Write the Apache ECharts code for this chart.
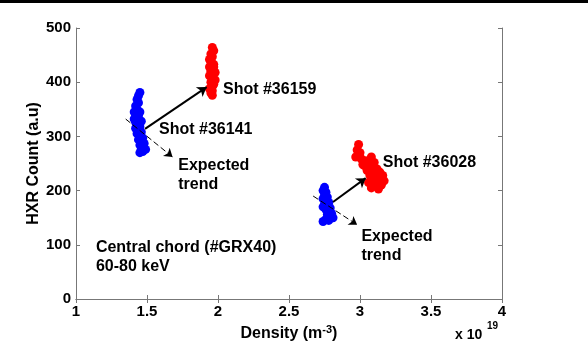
<!DOCTYPE html>
<html><head><meta charset="utf-8">
<script src="https://cdn.jsdelivr.net/npm/echarts@6/dist/echarts.min.js"></script>
<style>html,body{margin:0;padding:0;background:#fff}#c{width:588px;height:341px}</style>
</head><body><div id="c"></div>
<script>
// Data (density in 1e19 m^-3, HXR count a.u.)
const shot36141 = [[1.45,381],[1.44,375],[1.43,368],[1.44,362],[1.42,356],[1.43,350],[1.41,345],[1.42,340],[1.43,336],[1.41,332],[1.44,330],[1.42,326],[1.43,322],[1.45,318],[1.42,315],[1.44,312],[1.46,308],[1.43,305],[1.45,300],[1.47,297],[1.44,294],[1.46,290],[1.48,287],[1.45,284],[1.47,280],[1.46,276],[1.49,276],[1.47,272],[1.45,270],[1.44,338],[1.45,345],[1.46,328]];
const shot36159 = [[1.96,464],[1.97,458],[1.95,452],[1.96,447],[1.94,442],[1.95,437],[1.97,433],[1.94,428],[1.96,424],[1.95,420],[1.97,416],[1.94,412],[1.96,408],[1.98,404],[1.95,400],[1.97,396],[1.96,392],[1.94,388],[1.96,384],[1.95,380],[1.96,376],[1.97,428],[1.95,445],[1.98,418],[1.96,400]];
const shotB2 = [[2.75,206],[2.74,200],[2.76,197],[2.75,192],[2.77,188],[2.74,185],[2.76,181],[2.78,178],[2.75,175],[2.77,172],[2.74,170],[2.79,168],[2.76,165],[2.78,162],[2.80,158],[2.77,156],[2.79,152],[2.81,150],[2.76,147],[2.74,143],[2.78,145]];
const shot36028 = [[2.99,285],[2.98,275],[3.00,270],[2.97,262],[3.01,258],[3.04,255],[3.08,262],[3.06,250],[3.10,252],[3.03,246],[3.08,243],[3.12,240],[3.05,237],[3.10,233],[3.14,234],[3.07,228],[3.12,226],[3.16,228],[3.09,222],[3.14,220],[3.17,218],[3.06,215],[3.11,212],[3.15,210],[3.08,205],[3.13,203],[3.02,248],[3.00,262]];
const solidArrows = [[[1.486,314],[1.92,391]], [[2.81,179],[3.04,223]]];
const dashedArrows = [[[1.35,332],[1.68,262]], [[2.67,190],[2.98,137]]];
const annotations = [
  {name:'Shot #36159', value:[2.035,386]},
  {name:'Shot #36141', value:[1.585,312]},
  {name:'Expected\ntrend', value:[1.72,229]},
  {name:'Shot #36028', value:[3.16,251]},
  {name:'Expected\ntrend', value:[3.01,98]},
  {name:'Central chord (#GRX40)\n60-80 keV', value:[1.14,77]}
];
const xTicks = {min:1, max:4, interval:0.5};
const yTicks = {min:0, max:500, interval:100};

const FONT = '"Liberation Sans", Arial, sans-serif';
const axisGray = '#777';
const chart = echarts.init(document.getElementById('c'), null, {renderer:'canvas'});
const baseAxis = {
  axisLine:{show:true, lineStyle:{color:axisGray, width:1}},
  axisTick:{show:true, inside:true, length:4, lineStyle:{color:axisGray}},
  splitLine:{show:false}
};
const lbl = {color:'#000', fontFamily:FONT, fontWeight:'bold', fontSize:15};
chart.setOption({
  animation:false,
  grid:{left:76, right:86, top:28, bottom:42, containLabel:false, outerBoundsMode:'none'},
  xAxis:[
    Object.assign({type:'value', position:'bottom', min:xTicks.min, max:xTicks.max, interval:xTicks.interval,
      axisLabel:Object.assign({margin:5, formatter:v=>String(v)}, lbl),
      name:'{a|Density (m}{s|-3}{a|)}', nameLocation:'middle', nameGap:25,
      nameTextStyle:{rich:{a:{fontFamily:FONT,fontWeight:'bold',fontSize:16,color:'#000'}, s:{fontFamily:FONT,fontWeight:'bold',fontSize:11,color:'#000',verticalAlign:'top',padding:[0,0,8,0]}}}
    }, baseAxis),
    Object.assign({type:'value', position:'top', min:xTicks.min, max:xTicks.max, interval:xTicks.interval, axisLabel:{show:false}}, baseAxis)
  ],
  yAxis:[
    Object.assign({type:'value', position:'left', min:yTicks.min, max:yTicks.max, interval:yTicks.interval,
      axisLabel:Object.assign({margin:5}, lbl),
      name:'HXR Count (a.u)', nameLocation:'middle', nameGap:34, nameMoveOverlap:false,
      nameTextStyle:{fontFamily:FONT, fontWeight:'bold', fontSize:16, color:'#000'}
    }, baseAxis),
    Object.assign({type:'value', position:'right', min:yTicks.min, max:yTicks.max, interval:yTicks.interval, axisLabel:{show:false}}, baseAxis)
  ],
  series:[
    {type:'scatter', data:shot36141, symbolSize:9, itemStyle:{color:'#0000ff', opacity:1}},
    {type:'scatter', data:shotB2, symbolSize:9, itemStyle:{color:'#0000ff', opacity:1}},
    {type:'scatter', data:shot36159, symbolSize:9, itemStyle:{color:'#ff0000', opacity:1}},
    {type:'scatter', data:shot36028, symbolSize:9, itemStyle:{color:'#ff0000', opacity:1}},
    {type:'lines', coordinateSystem:'cartesian2d', symbol:['none','arrow'], symbolSize:9,
      lineStyle:{color:'#000', width:2, opacity:1}, data:solidArrows.map(c=>({coords:c})), z:5},
    {type:'lines', coordinateSystem:'cartesian2d', symbol:['none','arrow'], symbolSize:8,
      lineStyle:{color:'#000', width:1, type:[6,3], opacity:1}, data:dashedArrows.map(c=>({coords:c})), z:5},
    {type:'scatter', data:annotations, symbolSize:0, silent:true, z:6, itemStyle:{opacity:1},
      label:{show:true, position:'right', distance:0, formatter:p=>p.name, color:'#000',
        fontFamily:FONT, fontWeight:'bold', fontSize:16, lineHeight:19, align:'left', verticalAlign:'middle'}}
  ],
  graphic:[
    {type:'rect', left:0, top:0, shape:{width:588, height:3}, style:{fill:'#000'}},
    {type:'text', left:455, top:328, style:{text:'x 10', fontFamily:FONT, fontWeight:'bold', fontSize:14, fill:'#000'}},
    {type:'text', left:487, top:321, style:{text:'19', fontFamily:FONT, fontWeight:'bold', fontSize:10, fill:'#000'}}
  ]
});
</script></body></html>
